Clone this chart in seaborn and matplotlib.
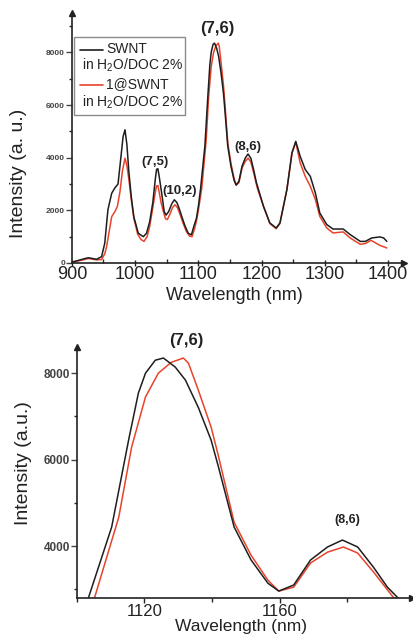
import pandas as pd
import seaborn as sns
import matplotlib.pyplot as plt
from matplotlib.patches import Rectangle
from matplotlib.ticker import MultipleLocator

# --- data (nm, a.u.) ---
wl_swnt = [900, 903, 918, 926, 939, 947, 952, 957, 963, 968,
           973, 977, 981, 984, 987, 990, 994, 998, 1005, 1013,
           1018, 1023, 1028, 1032, 1034, 1036, 1038, 1042, 1046, 1049, 1053,
           1058, 1062, 1066, 1070, 1074, 1079, 1084, 1089, 1093, 1097,
           1100, 1103.5, 1110.3, 1115.3, 1118.2, 1120.3, 1123.2, 1125.6, 1129.1, 1132.1,
           1135.9, 1139.7, 1141.8, 1146.5, 1151.5, 1156.5, 1159.7, 1164.1, 1169.1, 1174.1,
           1178.5, 1183.0, 1187.7, 1191.8, 1194.7, 1203, 1213, 1223, 1229, 1240,
           1248, 1254, 1261, 1269, 1277, 1285, 1292, 1303, 1313, 1329,
           1340, 1356, 1364, 1374, 1387, 1393, 1398]
int_swnt = [30, 50, 150, 200, 140, 240, 750, 2020, 2650, 2850,
            3000, 3900, 4800, 5060, 4500, 3500, 2500, 1750, 1130, 1000,
            1130, 1560, 2300, 3200, 3560, 3580, 3300, 2650, 1950, 1820, 1950,
            2250, 2400, 2300, 2050, 1750, 1400, 1130, 1070, 1400, 1700,
            2150, 2820, 4440, 6450, 7540, 8000, 8300, 8350, 8140, 7840,
            7210, 6450, 5850, 4440, 3680, 3140, 2960, 3100, 3680, 3980,
            4140, 3980, 3510, 3050, 2820, 2150, 1520, 1330, 1520, 2790,
            4180, 4620, 4050, 3550, 3290, 2660, 1900, 1460, 1290, 1290,
            1080, 820, 820, 950, 990, 950, 820]

wl_red = [900, 918, 926, 939, 947, 952, 955, 959, 963, 968,
          972, 976, 980, 984, 987, 990, 994, 998, 1004, 1009,
          1014, 1019, 1023, 1028, 1032, 1034, 1036, 1038, 1041, 1044, 1048,
          1051, 1055, 1059, 1063, 1067, 1071, 1076, 1081, 1086, 1090,
          1094, 1097, 1100, 1105.3, 1112.4, 1116.2, 1120.3, 1124.1, 1127.9, 1131.5,
          1133.0, 1135.9, 1139.7, 1141.8, 1146.5, 1151.5, 1156.5, 1159.7, 1164.1, 1169.1,
          1174.1, 1178.8, 1183.0, 1187.7, 1193.5, 1203, 1213, 1223, 1229, 1240,
          1248, 1254, 1261, 1269, 1277, 1285, 1292, 1303, 1313, 1329,
          1340, 1356, 1364, 1373, 1387, 1398]
int_red = [30, 120, 170, 120, 130, 350, 630, 1200, 1760, 1950,
           2150, 2700, 3500, 3980, 3700, 3200, 2400, 1700, 1100, 900,
           820, 1000, 1390, 2100, 2700, 2930, 2940, 2700, 2300, 2020, 1680,
           1650, 1850, 2100, 2210, 2100, 1850, 1500, 1200, 1020, 1000,
           1300, 1600, 2000, 2820, 4670, 6290, 7450, 8000, 8250, 8350,
           8230, 7610, 6750, 6100, 4550, 3790, 3210, 2960, 3050, 3610,
           3860, 3980, 3840, 3400, 2820, 2150, 1500, 1300, 1500, 2790,
           4180, 4590, 3800, 3290, 2910, 2410, 1770, 1330, 1140, 1180,
           950, 710, 740, 860, 670, 570]

# chirality labels: (text, x, y, size)
peaks_top = [('(7,6)', 1130, 8890, 12), ('(7,5)', 1032, 3850, 9.5),
             ('(10,2)', 1071, 2750, 9.5), ('(8,6)', 1178, 4420, 9.5)]
peaks_zoom = [('(7,6)', 1132.5, 8760, 12), ('(8,6)', 1180, 4600, 9)]

df = pd.concat([
    pd.DataFrame({'wl': wl_swnt, 'I': int_swnt, 'sample': 'SWNT'}),
    pd.DataFrame({'wl': wl_red, 'I': int_red, 'sample': '1@SWNT'}),
])
palette = {'SWNT': '#1e1e1e', '1@SWNT': '#e8432b'}

sns.set_theme(style='white')
plt.rcParams['font.family'] = ['Liberation Sans', 'DejaVu Sans']
plt.rcParams['mathtext.fontset'] = 'custom'
plt.rcParams['mathtext.rm'] = 'Liberation Sans'

fig = plt.figure(figsize=(4.13, 6.43), dpi=100)
fig.patch.set_facecolor('white')
ax1 = fig.add_axes([0.174, 0.591, 0.804, 0.389])
ax2 = fig.add_axes([0.186, 0.070, 0.811, 0.390])

for ax in (ax1, ax2):
    sns.lineplot(data=df, x='wl', y='I', hue='sample', hue_order=['1@SWNT', 'SWNT'],
                 palette=palette, lw=1.1, legend=False, sort=False, estimator=None, ax=ax)
    for s in ('top', 'right'):
        ax.spines[s].set_visible(False)
    for s in ('left', 'bottom'):
        ax.spines[s].set_color('#222222')
        ax.spines[s].set_linewidth(1.2)
    # arrow heads at axis ends
    ax.plot(1, 0, '>', color='#222222', ms=5, transform=ax.transAxes, clip_on=False)
    ax.plot(0, 1, '^', color='#222222', ms=5, transform=ax.transAxes, clip_on=False)
    ax.set_facecolor('white')

# --- top: full spectrum ---
ax1.set_xlim(900, 1425)
ax1.set_ylim(0, 9500)
ax1.xaxis.set_major_locator(MultipleLocator(100))
ax1.xaxis.set_minor_locator(MultipleLocator(50))
ax1.yaxis.set_major_locator(MultipleLocator(2000))
ax1.yaxis.set_minor_locator(MultipleLocator(1000))
ax1.tick_params(axis='x', which='major', direction='inout', length=5, width=1,
                labelsize=13, pad=0, colors='#222222', bottom=True)
ax1.tick_params(axis='x', which='minor', direction='in', length=3, width=1, bottom=True)
ax1.tick_params(axis='y', which='major', direction='out', length=4, width=1,
                labelsize=6, pad=1, colors='#444444', left=True)
ax1.tick_params(axis='y', which='minor', direction='out', length=2, width=1, left=True)
ax1.set_xlabel('Wavelength (nm)', fontsize=13, color='#222222')
ax1.set_ylabel('Intensity (a. u.)', fontsize=14, color='#222222')
ax1.xaxis.set_label_coords(0.49, -0.095)
ax1.yaxis.set_label_coords(-0.136, 0.36)

for txt, x, y, fs in peaks_top:
    ax1.text(x, y, txt, ha='center', va='center', fontsize=fs, weight='bold', color='#222222')

# legend drawn by hand (label wraps under the line handle)
ax1.add_patch(Rectangle((0.006, 0.592), 0.334, 0.312, transform=ax1.transAxes,
                        facecolor='white', edgecolor='#8a8a8a', lw=1, zorder=5))
leg_rows = [('SWNT', palette['SWNT'], 0.850, 0.792),
            ('1@SWNT', palette['1@SWNT'], 0.712, 0.644)]
for name, col, yh, ys in leg_rows:
    ax1.plot([0.026, 0.094], [yh, yh], color=col, lw=1.2, transform=ax1.transAxes, zorder=6)
    ax1.text(0.104, yh + 0.004, name, transform=ax1.transAxes, fontsize=10,
             va='center', ha='left', color='#222222', zorder=6)
    ax1.text(0.030, ys, r'in H$_\mathregular{2}$O/DOC 2%', transform=ax1.transAxes,
             fontsize=10, va='center', ha='left', color='#222222', zorder=6)

# --- bottom: zoom on (7,6) and (8,6) ---
ax2.set_xlim(1100, 1199)
ax2.set_ylim(2800, 8600)
ax2.xaxis.set_major_locator(MultipleLocator(40))
ax2.xaxis.set_minor_locator(MultipleLocator(20))
ax2.yaxis.set_major_locator(MultipleLocator(2000))
ax2.yaxis.set_minor_locator(MultipleLocator(1000))
ax2.set_xticks([1120, 1160])
ax2.tick_params(axis='x', which='major', direction='out', length=3.5, width=1,
                labelsize=12, pad=0.5, colors='#222222', bottom=True)
ax2.tick_params(axis='x', which='minor', direction='out', length=3, width=1, bottom=True)
ax2.tick_params(axis='y', which='major', direction='out', length=4, width=1,
                labelsize=8.5, pad=1, colors='#444444', left=True)
ax2.tick_params(axis='y', which='minor', direction='out', length=2, width=1, left=True)
ax2.set_xlabel('Wavelength (nm)', fontsize=12.5, color='#222222')
ax2.set_ylabel('Intensity (a.u.)', fontsize=14, color='#222222')
ax2.xaxis.set_label_coords(0.49, -0.085)
ax2.yaxis.set_label_coords(-0.134, 0.54)

for txt, x, y, fs in peaks_zoom:
    ax2.text(x, y, txt, ha='center', va='center', fontsize=fs, weight='bold',
             color='#222222', clip_on=False)

for ax in (ax1, ax2):
    for lbl in ax.get_yticklabels():
        lbl.set_fontweight('bold')

fig.savefig('out.png', dpi=100, facecolor='white')
